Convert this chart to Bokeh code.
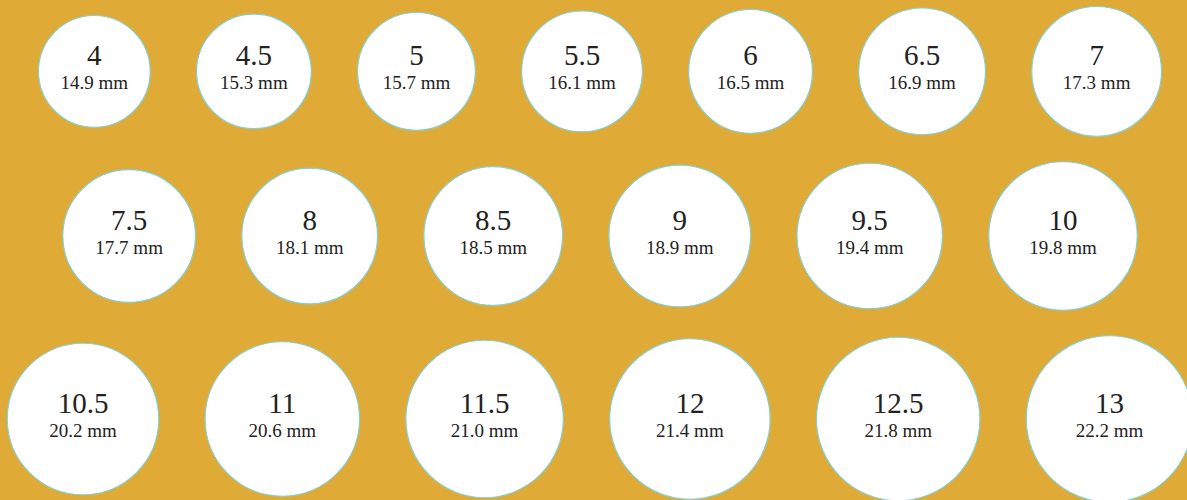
from bokeh.plotting import figure
from bokeh.models import Range1d, ColumnDataSource
from bokeh.embed import file_html
from bokeh.resources import INLINE

# ---- data ----
sizes = ["4", "4.5", "5", "5.5", "6", "6.5", "7",
         "7.5", "8", "8.5", "9", "9.5", "10",
         "10.5", "11", "11.5", "12", "12.5", "13"]
diam_mm = [14.9, 15.3, 15.7, 16.1, 16.5, 16.9, 17.3,
           17.7, 18.1, 18.5, 18.9, 19.4, 19.8,
           20.2, 20.6, 21.0, 21.4, 21.8, 22.2]
row_counts = [7, 6, 6]

# ---- layout constants (pixels) ----
PX_PER_MM = 7.5
W, H = 1187, 500
GAP = 46.3 / PX_PER_MM          # horizontal gap between circles (mm)
ROW_GAP = 25.5 / PX_PER_MM      # vertical gap between rows (mm)
TOP = 6 / PX_PER_MM
CENTER_X = 599.5 / PX_PER_MM

xs, ys = [], []
idx = 0
y_top = TOP
for n in row_counts:
    row = diam_mm[idx:idx + n]
    total = sum(row) + GAP * (n - 1)
    x = CENTER_X - total / 2
    row_h = max(row)
    cy = y_top + row_h / 2
    for d in row:
        xs.append(x + d / 2)
        ys.append(cy)
        x += d + GAP
    y_top += row_h + ROW_GAP
    idx += n

mm_labels = [f"{d:.1f} mm" for d in diam_mm]
src = ColumnDataSource(dict(x=xs, y=ys, r=[d / 2 for d in diam_mm],
                            size=sizes, mm=mm_labels))

BG = "#DFAA36"
p = figure(width=W, height=H, output_backend="svg", toolbar_location=None,
           x_range=Range1d(0, W / PX_PER_MM),
           y_range=Range1d(H / PX_PER_MM, 0),
           min_border=0, background_fill_color=BG, border_fill_color=BG,
           outline_line_color=None)
p.axis.visible = False
p.grid.visible = False

p.circle(x="x", y="y", radius="r", source=src, fill_color="white",
         line_color="#86CFCB", line_width=1.2)
p.text(x="x", y="y", text="size", source=src, text_align="center",
       text_baseline="alphabetic", y_offset=-16, text_font_size="29px",
       text_font="Liberation Serif", text_color="#222222")
p.text(x="x", y="y", text="mm", source=src, text_align="center",
       text_baseline="alphabetic", y_offset=11, text_font_size="19px",
       text_font="Liberation Serif", text_color="#222222")

html = file_html(p, INLINE)
html = html.replace("</head>", "<style>html,body{background:#DFAA36;}</style></head>", 1)
open("out.html", "w").write(html)
